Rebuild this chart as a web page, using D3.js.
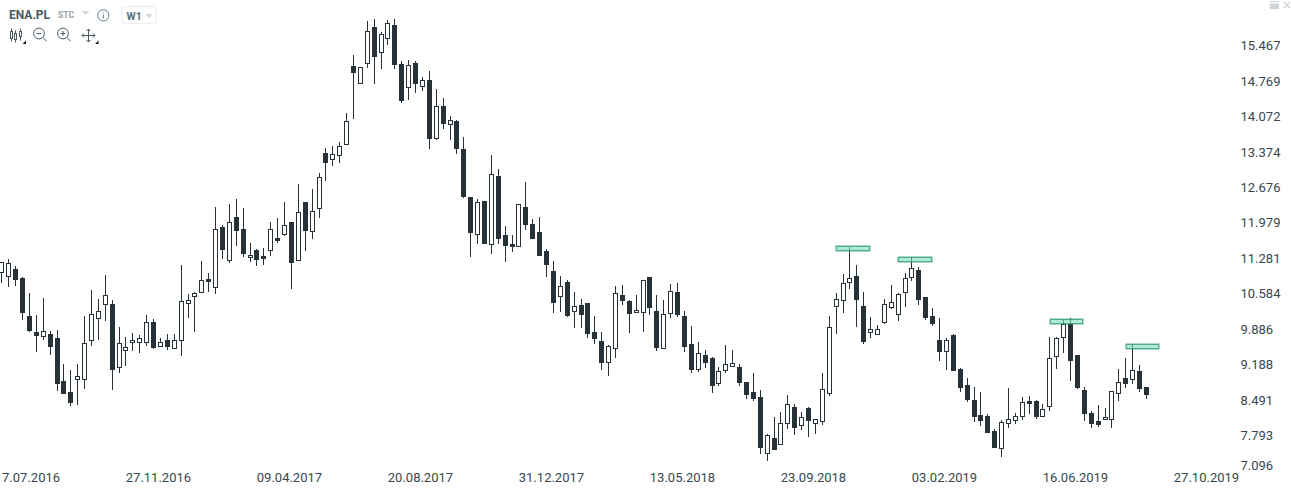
<!DOCTYPE html>
<html>
<head>
<meta charset="utf-8">
<script src="https://cdnjs.cloudflare.com/ajax/libs/d3/7.8.5/d3.min.js"></script>
<style>
html,body{margin:0;padding:0;background:#fff;overflow:hidden}
svg{display:block;font-family:Roboto,sans-serif}
.domain,.tick line{display:none}
.tick text{font-family:Roboto,sans-serif;font-size:13px;fill:#37474f}
</style>
</head>
<body>
<svg id="chart" width="1291" height="492"></svg>
<script>
const symbol = "ENA.PL", market = "STC", period = "W1";
const priceTicks = [15.467,14.769,14.072,13.374,12.676,11.979,11.281,10.584,9.886,9.188,8.491,7.793,7.096];
const dateTicks = ["2016-07-17","2016-11-27","2017-04-09","2017-08-20","2017-12-31","2018-05-13","2018-09-23","2019-02-03","2019-06-16","2019-10-27"];
const firstWeek = "2016-06-19";
const lastWeek = "2019-10-27";

const opens = [11.00,10.92,11.07,10.89,10.15,9.83,9.74,9.79,9.71,8.87,8.65,8.89,8.89,9.66,10.09,10.37,10.38,9.13,9.46,9.62,9.62,9.61,10.03,9.54,9.67,9.50,9.66,10.39,10.51,10.60,10.87,
10.70,11.89,11.23,12.09,11.86,11.29,11.44,11.32,11.43,11.68,11.74,11.99,11.23,12.39,11.80,12.24,13.35,13.22,13.30,13.50,15.06,14.70,15.11,15.83,15.31,15.60,15.87,15.10,14.64,
15.12,14.66,14.79,13.63,14.28,13.91,13.98,13.43,12.49,11.73,12.41,11.55,12.90,11.74,11.56,11.51,12.29,11.95,11.80,11.42,11.03,10.51,10.81,10.23,10.36,10.40,9.83,9.65,9.21,
9.50,10.56,10.44,10.21,10.21,10.91,10.24,9.50,10.19,10.62,10.15,9.59,9.09,9.38,9.32,8.81,9.07,9.15,9.14,8.85,8.65,8.55,7.42,7.74,7.61,8.01,8.35,7.97,8.33,
8.01,8.06,8.60,10.33,10.43,10.80,10.93,10.34,9.80,9.78,10.01,10.31,10.17,10.60,10.90,11.05,10.52,10.14,9.67,9.44,9.77,9.10,8.79,8.49,8.20,
8.18,7.88,7.53,8.01,8.08,8.16,8.47,8.47,8.16,8.36,9.34,9.72,9.98,9.38,8.69,8.24,8.08,8.10,8.10,8.60,8.92,8.89,9.06,8.75];
const highs = [11.20,11.27,11.13,10.91,10.60,10.16,10.50,9.85,9.87,9.20,9.08,9.20,10.15,10.66,10.48,10.95,10.46,9.93,9.73,9.81,9.77,10.16,10.09,9.71,9.79,9.79,11.15,10.58,10.62,11.23,10.99,
12.29,11.93,12.35,12.45,12.27,11.58,11.46,11.48,11.99,12.07,12.39,11.99,12.74,12.39,12.64,12.96,13.45,13.49,13.57,14.14,15.28,15.04,15.95,15.99,15.73,15.97,15.99,15.16,15.18,
15.16,14.85,14.97,14.61,14.43,14.08,14.00,13.67,12.49,12.45,12.41,13.31,13.04,11.92,11.74,12.34,12.78,12.05,12.09,11.46,11.23,10.93,10.85,10.62,10.48,10.40,10.14,9.83,9.57,
10.74,10.76,10.46,10.56,10.85,10.91,10.56,10.46,10.77,10.79,10.24,9.95,9.63,9.48,9.34,9.14,9.57,9.48,9.20,8.85,9.02,8.69,7.82,8.16,8.26,8.59,8.41,8.26,8.35,
8.11,9.02,10.14,10.60,10.97,11.50,11.15,10.62,10.12,9.97,10.48,10.75,10.60,10.99,11.30,11.11,10.52,10.30,10.10,9.71,9.79,9.12,8.92,8.75,8.65,
8.22,7.92,8.10,8.73,8.24,8.55,8.57,8.49,8.41,9.73,9.73,10.08,10.10,9.38,8.75,8.27,8.39,8.33,8.66,9.10,9.32,9.59,9.18,8.75];
const lows = [10.80,10.72,10.74,10.07,9.83,9.44,9.67,9.38,8.67,8.61,8.37,8.39,8.71,9.55,9.67,10.05,8.69,9.02,9.16,9.46,9.42,9.55,9.50,9.54,9.48,9.50,9.36,10.11,9.83,10.60,10.62,
10.58,11.27,11.19,11.52,11.30,11.21,11.13,11.15,11.32,11.58,11.72,10.67,11.23,11.42,11.66,12.07,12.80,13.10,13.15,13.50,14.02,14.70,15.02,14.71,15.00,15.48,15.00,14.34,14.39,
14.53,14.57,13.43,13.61,13.82,13.61,13.33,12.47,11.31,11.56,11.56,11.36,11.56,11.21,11.40,11.51,11.84,11.66,11.32,10.91,10.20,10.22,10.12,9.91,9.91,9.71,9.59,9.08,8.96,
9.32,10.36,9.81,10.21,9.83,10.16,9.46,9.50,10.11,10.13,9.44,9.02,9.04,9.12,8.63,8.77,9.02,9.15,8.77,8.51,8.47,7.43,7.29,7.51,7.61,7.92,7.80,7.90,7.76,
7.82,8.00,8.57,9.79,10.20,10.68,9.93,9.59,9.71,9.78,9.99,10.28,10.05,10.32,10.83,10.36,10.06,9.95,9.26,9.08,9.06,8.65,8.45,8.06,7.98,
7.84,7.55,7.37,7.94,8.02,8.10,8.22,8.12,8.16,8.27,9.10,9.42,8.86,8.71,8.08,7.94,7.96,8.10,7.94,8.47,8.73,8.81,8.65,8.51];
const closes = [11.20,11.18,10.85,10.20,9.85,9.75,9.84,9.54,8.81,8.61,8.43,8.96,9.61,10.18,10.24,10.55,9.08,9.61,9.53,9.67,9.72,10.02,9.52,9.63,9.54,9.67,10.43,10.45,10.59,10.85,10.81,
11.85,11.44,11.99,11.82,11.36,11.34,11.25,11.27,11.85,11.62,11.93,11.19,12.20,11.82,12.22,12.87,13.15,13.34,13.48,13.99,14.93,15.04,15.75,15.24,15.69,15.90,15.08,14.37,15.08,
14.71,14.78,13.63,14.27,13.92,14.00,13.43,12.49,11.78,12.38,11.56,12.93,11.66,11.52,11.50,12.34,11.94,11.66,11.32,11.15,10.40,10.73,10.14,10.35,10.16,9.79,9.69,9.22,9.55,
10.59,10.44,10.18,10.26,10.85,10.30,9.52,10.18,10.63,10.16,9.53,9.08,9.41,9.22,8.77,9.06,9.19,9.21,8.83,8.59,8.51,7.55,7.81,7.51,8.03,8.41,7.94,8.15,8.08,
8.11,8.70,9.92,10.47,10.79,10.89,10.46,9.63,9.88,9.88,10.39,10.41,10.57,10.90,11.08,10.46,10.10,9.99,9.44,9.68,9.06,8.73,8.49,8.16,8.08,
7.84,7.55,8.05,8.11,8.17,8.45,8.41,8.16,8.31,9.31,9.72,9.98,9.26,8.73,8.22,8.02,8.00,8.15,8.66,8.84,8.81,9.08,8.71,8.59];

const markerStarts = ["2018-10-14","2018-12-16","2019-05-19","2019-08-04"];
const markerEnds = ["2018-11-18","2019-01-20","2019-06-23","2019-09-08"];
const markerLevels = [11.47,11.24,10.03,9.53];

const parse = d3.utcParse("%Y-%m-%d");
const weeks = d3.utcWeek.range(parse(firstWeek), d3.utcDay.offset(parse(lastWeek), 1));
const x = d3.scaleUtc().domain([parse(firstWeek), parse(lastWeek)]).range([1.85, 1.85 + 6.895 * (weeks.length - 1)]);
const y = d3.scaleLinear().domain([7.096, 15.467]).range([470.9, 45.5]);
const INK = "#263238";
const svg = d3.select("#chart");

// candles
const candles = opens.map((o, i) => ({date: weeks[i], o, h: highs[i], l: lows[i], c: closes[i]}));
const px = d => Math.floor(x(d));
const g = svg.append("g").attr("class", "candles");
g.selectAll("line").data(candles).join("line")
  .attr("x1", d => px(d.date) + .5).attr("x2", d => px(d.date) + .5)
  .attr("y1", d => Math.round(y(d.h))).attr("y2", d => Math.round(y(d.l)))
  .attr("stroke", INK).attr("stroke-width", 1);
g.selectAll("rect").data(candles).join("rect")
  .each(function(d){
    const top = Math.round(y(Math.max(d.o, d.c))), bot = Math.round(y(Math.min(d.o, d.c)));
    const up = d.c >= d.o;
    d3.select(this)
      .attr("x", px(d.date) - 2 + (up ? .5 : 0))
      .attr("y", top + (up ? .5 : 0))
      .attr("width", up ? 4 : 5)
      .attr("height", Math.max(1, bot - top - (up ? 1 : 0)))
      .attr("fill", up ? "#fff" : INK)
      .attr("stroke", up ? INK : "none")
      .attr("stroke-width", up ? 1 : 0);
  });

// resistance markers
svg.append("g").attr("class", "markers").selectAll("rect").data(markerLevels).join("rect")
  .attr("x", (d, i) => Math.round(x(parse(markerStarts[i]))) + .25)
  .attr("y", d => Math.round(y(d)) - 2.75)
  .attr("width", (d, i) => Math.round(x(parse(markerEnds[i]))) - Math.round(x(parse(markerStarts[i]))) - 1.5)
  .attr("height", 4.5)
  .attr("fill", "rgba(122,224,186,.6)")
  .attr("stroke", "rgba(40,150,115,.75)")
  .attr("stroke-width", 1.5);

// axes
svg.append("clipPath").attr("id", "xclip").append("rect").attr("x", 2).attr("y", 440).attr("width", 1289).attr("height", 52);
const yAxis = svg.append("g").attr("transform", "translate(1240.5,0)")
  .call(d3.axisRight(y).tickValues(priceTicks).tickFormat(d3.format(".3f")).tickSize(0).tickPadding(0));
yAxis.selectAll(".tick text").attr("text-anchor", "start").attr("dy", ".32em")
  .filter(d => d === 7.096).attr("dy", "-.07em");
const xClip = svg.append("g").attr("clip-path", "url(#xclip)");
const xAxis = xClip.append("g").attr("transform", "translate(-2.5,470)")
  .call(d3.axisBottom(x).tickValues(dateTicks.map(parse)).tickFormat(d3.utcFormat("%d.%m.%Y")).tickSize(0).tickPadding(0));
xAxis.selectAll(".tick text").attr("dy", ".9em");

// toolbar
const tb = svg.append("g");
tb.append("text").text(symbol).attr("x", 9).attr("y", 19).attr("font-size", 12).attr("font-weight", 700).attr("fill", "#455a64");
tb.append("text").text(market).attr("x", 58).attr("y", 18).attr("font-size", 8.5).attr("font-weight", 700).attr("fill", "#90a4ae");
tb.append("path").attr("d", "M81.5 11h8l-4 4z").attr("fill", "#cfd8dc");
tb.append("circle").attr("cx", 103.3).attr("cy", 15.3).attr("r", 5.6).attr("fill", "none").attr("stroke", "#607d8b").attr("stroke-width", 1);
tb.append("path").attr("d", "M103.3 14.5v4M103.3 12.3v1").attr("stroke", "#607d8b").attr("stroke-width", 1).attr("fill", "none");
tb.append("rect").attr("x", 122).attr("y", 6.5).attr("width", 34).attr("height", 17).attr("rx", 2.5).attr("fill", "#fff").attr("stroke", "#e8ecee");
tb.append("text").text(period).attr("x", 126.5).attr("y", 19.5).attr("font-size", 10.5).attr("font-weight", 700).attr("fill", "#546e7a");
tb.append("path").attr("d", "M145.5 14h7l-3.5 4z").attr("fill", "#cfd8dc");
const ic = tb.append("g").attr("fill", "none").attr("stroke", "#455a64").attr("stroke-width", 1);
ic.append("path").attr("d", "M11.5 28.5v13M15.5 30.5v12M20.5 28.5v12");
ic.append("rect").attr("x", 10.5).attr("y", 31.5).attr("width", 2).attr("height", 7).attr("fill", "#fff");
ic.append("rect").attr("x", 14.5).attr("y", 33.5).attr("width", 2).attr("height", 6).attr("fill", "#fff");
ic.append("rect").attr("x", 19.5).attr("y", 31.5).attr("width", 2).attr("height", 5).attr("fill", "#fff");
ic.append("circle").attr("cx", 39).attr("cy", 33.5).attr("r", 5.4);
ic.append("path").attr("d", "M36.5 33.5h5M43 37.5l3.5 3.8");
ic.append("circle").attr("cx", 63).attr("cy", 33.5).attr("r", 5.4);
ic.append("path").attr("d", "M60.5 33.5h5M63 31v5M67 37.5l3.5 3.8");
ic.append("path").attr("d", "M82 35.5h13M88.5 29v13M86.5 31l2-2 2 2M86.5 40l2 2 2-2M84 33.5l-2 2 2 2M93 33.5l2 2-2 2");
tb.append("path").attr("d", "M22.5 44h3.5v-3.5zM95 44h3.5v-3.5z").attr("fill", "#111");
// window controls
tb.append("rect").attr("x", 1270).attr("y", 1).attr("width", 9).attr("height", 8).attr("fill", "#cfd4d8");
tb.append("rect").attr("x", 1270).attr("y", 2).attr("width", 9).attr("height", 1.5).attr("fill", "#fff");
tb.append("path").attr("d", "M1284 2l6 6M1290 2l-6 6").attr("stroke", "#cfd4d8").attr("stroke-width", 1.2);
</script>
</body>
</html>
